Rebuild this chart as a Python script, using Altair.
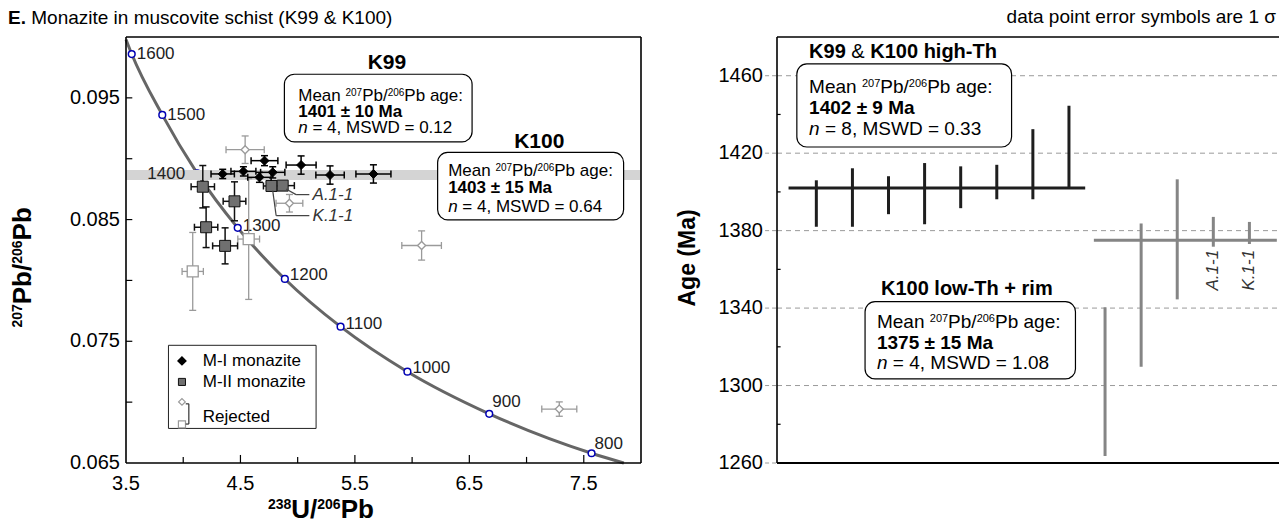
import altair as alt
import pandas as pd

FONT = "Liberation Sans"

# ---------------- left panel data (238U/206Pb vs 207Pb/206Pb) ----------------
curve_x = [3.500, 3.550, 3.817, 4.122, 4.476, 4.888, 5.375, 5.959, 6.674, 7.568, 7.850]
curve_y = [0.09980, 0.09860, 0.09360, 0.08880, 0.08432, 0.08012, 0.07620, 0.07250, 0.06904, 0.06580, 0.06500]

conc_age = [1600, 1500, 1400, 1300, 1200, 1100, 1000, 900, 800]
conc_x = [3.550, 3.817, 4.122, 4.476, 4.888, 5.375, 5.959, 6.674, 7.568]
conc_y = [0.09860, 0.09360, 0.08880, 0.08432, 0.08012, 0.07620, 0.07250, 0.06904, 0.06580]

mi_x = [4.345, 4.526, 4.666, 4.710, 4.782, 5.030, 5.283, 5.662]
mi_y = [0.08875, 0.08896, 0.08847, 0.08984, 0.08888, 0.08948, 0.08866, 0.08875]
mi_xe = [0.102, 0.109, 0.102, 0.117, 0.106, 0.131, 0.124, 0.153]
mi_ye = [0.00038, 0.00038, 0.00041, 0.00041, 0.00046, 0.00075, 0.00075, 0.00075]

mii_x = [4.171, 4.448, 4.200, 4.366, 4.771, 4.869]
mii_y = [0.08770, 0.08650, 0.08437, 0.08284, 0.08776, 0.08779]
mii_xe = [0.102, 0.099, 0.102, 0.109, 0.070, 0.102]
mii_ye = [0.00174, 0.00160, 0.00167, 0.00148, 0.00020, 0.00020]

rd_x = [4.541, 4.928, 6.083, 7.286]
rd_y = [0.09074, 0.08634, 0.08287, 0.06943]
rd_xe = [0.167, 0.117, 0.173, 0.153]
rd_ye = [0.00113, 0.00072, 0.00120, 0.00059]

rs_x = [4.083, 4.572]
rs_y = [0.08074, 0.08340]
rs_xe = [0.093, 0.095]
rs_ye = [0.00320, 0.00496]

band_lo, band_hi = 0.08825, 0.08907

x_labels = [3.5, 4.5, 5.5, 6.5, 7.5]
x_minor = [4.0, 5.0, 6.0, 7.0]
y_labels = [0.065, 0.075, 0.085, 0.095]
y_ticks = [0.070, 0.075, 0.080, 0.085, 0.090, 0.095]

# ---------------- right panel data (ages, Ma) ----------------
hi_pos = [1, 2, 3, 4, 5, 6, 7, 8]
hi_age = [1394.0, 1397.1, 1398.3, 1399.1, 1402.4, 1405.1, 1414.3, 1423.2]
hi_err = [12.0, 15.1, 9.8, 15.8, 10.8, 8.9, 18.1, 21.3]
lo_pos = [9, 10, 11, 12, 13]
lo_age = [1302.0, 1346.7, 1375.5, 1379.4, 1378.8]
lo_err = [38.4, 37.0, 31.0, 7.7, 5.7]
hi_mean = 1402
lo_mean = 1375
age_labels = [1260, 1300, 1340, 1380, 1420, 1460]
age_grid = [1300, 1340, 1380, 1420, 1460]
age_minor = [1280, 1320, 1360, 1400, 1440]

# ---------------- scales ----------------
LX = alt.Scale(domain=[3.5, 8.0], range=[0, 515], nice=False, zero=False)
LY = alt.Scale(domain=[0.065, 0.100], nice=False, zero=False)
RX = alt.Scale(domain=[-0.09, 13.82], range=[651, 1153], nice=False, zero=False)
RY = alt.Scale(domain=[1260, 1480], nice=False, zero=False)
R0, R1 = -0.09, 13.82

one = pd.DataFrame({"k": [0]})

# approximate Arial / Liberation Sans advance widths (per 1000 em)
_REG = {" ": 278, "&": 667, "(": 333, ")": 333, ",": 278, "-": 333, ".": 278, "/": 278, ":": 278,
        "=": 584, "±": 584}
_BOLD = {" ": 278, "&": 722, "(": 333, ")": 333, ",": 278, "-": 333, ".": 278, "/": 278, ":": 333,
         "=": 584, "±": 549}
for c, w in zip("ABCDEFGHIJKLMNOPQRSTUVWXYZ",
                [667, 667, 722, 722, 667, 611, 778, 722, 278, 500, 667, 556, 833, 722, 778, 667, 778,
                 722, 667, 611, 722, 667, 944, 667, 667, 611]):
    _REG[c] = w
for c, w in zip("abcdefghijklmnopqrstuvwxyz",
                [556, 556, 500, 556, 556, 278, 556, 556, 222, 222, 500, 222, 833, 556, 556, 556, 556,
                 333, 500, 278, 556, 500, 722, 500, 500, 500]):
    _REG[c] = w
for c, w in zip("ABCDEFGHIJKLMNOPQRSTUVWXYZ",
                [722, 722, 722, 722, 667, 611, 778, 722, 278, 556, 722, 611, 833, 722, 778, 667, 778,
                 722, 667, 611, 722, 667, 944, 667, 667, 611]):
    _BOLD[c] = w
for c, w in zip("abcdefghijklmnopqrstuvwxyz",
                [556, 611, 556, 611, 556, 333, 611, 611, 278, 278, 556, 278, 889, 611, 611, 611, 611,
                 389, 556, 333, 611, 556, 778, 556, 556, 500]):
    _BOLD[c] = w


def twidth(s, size, bold=False):
    tbl = _BOLD if bold else _REG
    return sum(tbl.get(c, 556) for c in s) * size / 1000.0


def pos(sx, sy, x, y, x2=None, y2=None):
    enc = dict(x=alt.XDatum(x, scale=sx, axis=None), y=alt.YDatum(y, scale=sy, axis=None))
    if x2 is not None:
        enc["x2"] = alt.X2Datum(x2)
    if y2 is not None:
        enc["y2"] = alt.Y2Datum(y2)
    return enc


def text(sx, sy, x, y, s, **kw):
    props = dict(font=FONT, fontSize=17, align="left", baseline="alphabetic", color="black")
    props.update(kw)
    return alt.Chart(one).mark_text(text=s, **props).encode(**pos(sx, sy, x, y))


def rich(sx, sy, x, y, segs, angle=0, center=False, color="black"):
    """segs: (text, size, bold, italic, raise) pieces placed one after another
    (offsets are applied in the text's own, possibly rotated, frame)."""
    widths = [twidth(t, s, b) for t, s, b, i, r in segs]
    total = sum(widths)
    cum = -total / 2 if center else 0.0
    out = []
    for (t, s, b, i, r), w in zip(segs, widths):
        lead = len(t) - len(t.lstrip(" "))
        off = cum + twidth(" " * lead, s, b)
        props = dict(fontSize=s, fontWeight="bold" if b else "normal",
                     fontStyle="italic" if i else "normal", color=color, dx=off, dy=-r)
        if angle:
            props["angle"] = angle
        out.append(text(sx, sy, x, y, t.strip(" "), **props))
        cum += w
    return out


def rule(sx, sy, x, y, x2=None, y2=None, **kw):
    props = dict(color="black", strokeWidth=1.5)
    props.update(kw)
    return alt.Chart(one).mark_rule(**props).encode(**pos(sx, sy, x, y, x2, y2))


def rect(sx, sy, x, x2, y, y2, **kw):
    return alt.Chart(one).mark_rect(**kw).encode(**pos(sx, sy, x, y, x2, y2))


def qx(f, s):
    return alt.X(f, type="quantitative", scale=s, axis=None)


def qy(f, s):
    return alt.Y(f, type="quantitative", scale=s, axis=None)


def errbars(xs, ys, xe, ye, color, sw, cap):
    df = pd.DataFrame({"x": xs, "y": ys, "xe": xe, "ye": ye})
    b = alt.Chart(df).transform_calculate(
        xl="datum.x - datum.xe", xh="datum.x + datum.xe",
        yl="datum.y - datum.ye", yh="datum.y + datum.ye")
    tick = dict(size=cap, thickness=sw, color=color, opacity=1)
    return [
        b.mark_rule(color=color, strokeWidth=sw).encode(x=qx("xl", LX), x2=alt.X2("xh"), y=qy("y", LY)),
        b.mark_rule(color=color, strokeWidth=sw).encode(x=qx("x", LX), y=qy("yl", LY), y2=alt.Y2("yh")),
        b.mark_tick(orient="vertical", **tick).encode(x=qx("xl", LX), y=qy("y", LY)),
        b.mark_tick(orient="vertical", **tick).encode(x=qx("xh", LX), y=qy("y", LY)),
        b.mark_tick(orient="horizontal", **tick).encode(x=qx("x", LX), y=qy("yl", LY)),
        b.mark_tick(orient="horizontal", **tick).encode(x=qx("x", LX), y=qy("yh", LY)),
    ]


def symbols(xs, ys, **kw):
    df = pd.DataFrame({"x": xs, "y": ys})
    props = dict(filled=True, opacity=1)
    props.update(kw)
    return alt.Chart(df).mark_point(**props).encode(x=qx("x", LX), y=qy("y", LY))


def mean_line(sx, sy, x, y, size):
    sup = round(size * 0.58)
    r = size * 0.3
    return rich(sx, sy, x, y, [("Mean ", size, False, False, 0), ("207", sup, False, False, r),
                               ("Pb/", size, False, False, 0), ("206", sup, False, False, r),
                               ("Pb age:", size, False, False, 0)])


L = []
curve_df = pd.DataFrame({"x": curve_x, "y": curve_y})
L.append(alt.Chart(curve_df).mark_line(color="#666666", strokeWidth=3, interpolate="monotone").encode(
    x=qx("x", LX), y=qy("y", LY), order="x:Q"))

conc_df = pd.DataFrame({"age": conc_age, "x": conc_x, "y": conc_y})
L.append(alt.Chart(conc_df).mark_point(shape="circle", size=45, filled=True, fill="white",
                                        stroke="#0000b4", strokeWidth=1.5, opacity=1).encode(
    x=qx("x", LX), y=qy("y", LY)))
L.append(rect(LX, LY, 3.5, 8.0, band_lo, band_hi, color="#d4d4d4"))

label_offsets = {1600: (5, 0), 1500: (5, 0), 1300: (5, -2), 1200: (5, -4), 1100: (5, -3),
                 1000: (5, -4), 900: (3, -12), 800: (3, -9)}
for a, (ddx, ddy) in label_offsets.items():
    L.append(alt.Chart(conc_df).transform_filter(alt.datum.age == a).mark_text(
        font=FONT, fontSize=17, align="left", baseline="middle", dx=ddx, dy=ddy, color="#222").encode(
        x=qx("x", LX), y=qy("y", LY), text="age:N"))
L.append(alt.Chart(conc_df).transform_filter(alt.datum.age == 1400).mark_text(
    font=FONT, fontSize=17, align="right", baseline="middle", dx=-12, dy=1, color="#222").encode(
    x=qx("x", LX), y=qy("y", LY), text="age:N"))

# rejected analyses
L += errbars(rd_x, rd_y, rd_xe, rd_ye, "#9a9a9a", 1.3, 7)
L += errbars(rs_x, rs_y, rs_xe, rs_ye, "#9a9a9a", 1.3, 7)
L.append(symbols(rd_x, rd_y, shape="diamond", size=64, fill="white", stroke="#9a9a9a", strokeWidth=1.3))
L.append(symbols(rs_x, rs_y, shape="square", size=121, fill="white", stroke="#9a9a9a", strokeWidth=1.3))
# M-II
L += errbars(mii_x, mii_y, mii_xe, mii_ye, "#111111", 1.5, 7)
L.append(symbols(mii_x, mii_y, shape="square", size=121, fill="#707070", stroke="#111111", strokeWidth=1))
# M-I
L += errbars(mi_x, mi_y, mi_xe, mi_ye, "#000000", 1.5, 7)
L.append(symbols(mi_x, mi_y, shape="diamond", size=81, fill="#000000", stroke="#000000", strokeWidth=1))

# leader lines and spot labels
L.append(rule(LX, LY, 4.899, 0.08752, 4.986, 0.08705, color="#444", strokeWidth=1.2))
L.append(rule(LX, LY, 4.986, 0.08705, 5.102, 0.08705, color="#444", strokeWidth=1.2))
L.append(rule(LX, LY, 4.782, 0.08738, 4.812, 0.08533, color="#444", strokeWidth=1.2))
L.append(rule(LX, LY, 4.812, 0.08533, 5.102, 0.08533, color="#444", strokeWidth=1.2))
L.append(text(LX, LY, 5.13, 0.08705, "A.1-1", fontStyle="italic", baseline="middle", color="#333"))
L.append(text(LX, LY, 5.13, 0.08533, "K.1-1", fontStyle="italic", baseline="middle", color="#333"))

# K99 / K100 annotations
L.append(text(LX, LY, 5.78, 0.09734, "K99", fontSize=21, fontWeight="bold", align="center"))
L.append(rect(LX, LY, 4.884, 6.524, 0.09139, 0.09694, fill="white", stroke="black", strokeWidth=1.2,
              cornerRadius=10))
L += mean_line(LX, LY, 5.005, 0.094754, 17)
L.append(text(LX, LY, 5.005, 0.093443, "1401 ± 10 Ma", fontWeight="bold"))
L += rich(LX, LY, 5.005, 0.092131, [("n", 17, False, True, 0), (" = 4, MSWD = 0.12", 17, False, False, 0)])

L.append(text(LX, LY, 7.111, 0.0909, "K100", fontSize=21, fontWeight="bold", align="center"))
L.append(rect(LX, LY, 6.223, 7.848, 0.08498, 0.09052, fill="white", stroke="black", strokeWidth=1.2,
              cornerRadius=10))
L += mean_line(LX, LY, 6.315, 0.088607, 17)
L.append(text(LX, LY, 6.315, 0.087213, "1403 ± 15 Ma", fontWeight="bold"))
L += rich(LX, LY, 6.315, 0.085656, [("n", 17, False, True, 0), (" = 4, MSWD = 0.64", 17, False, False, 0)])

# legend
L.append(rect(LX, LY, 3.871, 5.161, 0.06784, 0.07467, fill="white", stroke="#222", strokeWidth=1))
L.append(symbols([3.989], [0.07339], shape="diamond", size=50, fill="black", stroke="black"))
L.append(symbols([3.989], [0.07166], shape="square", size=50, fill="#707070", stroke="#111", strokeWidth=1))
L.append(symbols([3.989], [0.07002], shape="diamond", size=45, fill="white", stroke="#9a9a9a", strokeWidth=1.2))
L.append(symbols([3.989], [0.06817], shape="square", size=50, fill="white", stroke="#9a9a9a", strokeWidth=1.2))
L.append(text(LX, LY, 4.171, 0.07339, "M-I monazite", baseline="middle"))
L.append(text(LX, LY, 4.171, 0.07166, "M-II monazite", baseline="middle"))
L.append(text(LX, LY, 4.171, 0.06875, "Rejected", baseline="middle"))
L.append(rule(LX, LY, 4.022, 0.06986, 4.049, 0.06986, color="#333", strokeWidth=1.2))
L.append(rule(LX, LY, 4.049, 0.06986, 4.049, 0.06820, color="#333", strokeWidth=1.2))
L.append(rule(LX, LY, 4.022, 0.06820, 4.049, 0.06820, color="#333", strokeWidth=1.2))

# frame, inward ticks and tick labels
L.append(rule(LX, LY, 3.5, 0.065, 3.5, 0.100, strokeWidth=1.6))
L.append(rule(LX, LY, 8.0, 0.065, 8.0, 0.100, strokeWidth=1.6))
L.append(rule(LX, LY, 3.5, 0.100, 8.0, 0.100, strokeWidth=1.6))
L.append(rule(LX, LY, 3.5, 0.065, 8.0, 0.065, strokeWidth=1.6))
xt_major = pd.DataFrame({"v": x_labels[1:]})
xt_minor = pd.DataFrame({"v": x_minor})
yt = pd.DataFrame({"v": y_ticks})
L.append(alt.Chart(xt_major).mark_rule(color="black", strokeWidth=1.2).encode(
    x=qx("v", LX), y=alt.YDatum(0.065, scale=LY, axis=None), y2=alt.Y2Datum(0.06566)))
L.append(alt.Chart(xt_minor).mark_rule(color="black", strokeWidth=1.2).encode(
    x=qx("v", LX), y=alt.YDatum(0.065, scale=LY, axis=None), y2=alt.Y2Datum(0.06550)))
L.append(alt.Chart(yt).mark_rule(color="black", strokeWidth=1.2).encode(
    y=qy("v", LY), x=alt.XDatum(3.5, scale=LX, axis=None), x2=alt.X2Datum(3.555)))
xl_df = pd.DataFrame({"v": x_labels, "t": [f"{v:.1f}" for v in x_labels]})
yl_df = pd.DataFrame({"v": y_labels, "t": [f"{v:.3f}" for v in y_labels]})
L.append(alt.Chart(xl_df).mark_text(font=FONT, fontSize=20, baseline="alphabetic", dy=27, color="black").encode(
    x=qx("v", LX), y=alt.YDatum(0.065, scale=LY, axis=None), text="t:N"))
L.append(alt.Chart(yl_df).mark_text(font=FONT, fontSize=20, align="right", baseline="middle", dx=-6,
                                    color="black").encode(
    y=qy("v", LY), x=alt.XDatum(3.5, scale=LX, axis=None), text="t:N"))

# titles of the left panel
L += rich(LX, LY, 2.469, 0.10105, [("E.", 19, True, False, 0),
                                     (" Monazite in muscovite schist (K99 & K100)", 19, False, False, 0)])
L += rich(LX, LY, 2.670, 0.08107, [("207", 14, True, False, 9), ("Pb/", 26, True, False, 0),
                                     ("206", 14, True, False, 9), ("Pb", 26, True, False, 0)],
          angle=270, center=True)
L += rich(LX, LY, 5.203, 0.06045, [("238", 14, True, False, 9), ("U/", 26, True, False, 0),
                                     ("206", 14, True, False, 9), ("Pb", 26, True, False, 0)], center=True)

# ---------------- right panel ----------------
R = []
grid_df = pd.DataFrame({"age": age_grid})
R.append(alt.Chart(grid_df).mark_rule(color="#9a9a9a", strokeWidth=1, strokeDash=[5, 4]).encode(
    x=alt.XDatum(R0, scale=RX, axis=None), x2=alt.X2Datum(R1), y=qy("age", RY)))
lab_df = pd.DataFrame({"age": age_labels})
R.append(alt.Chart(lab_df).mark_rule(color="#9a9a9a", strokeWidth=1, strokeDash=[4, 3]).encode(
    x=alt.XDatum(R0 - 0.33, scale=RX, axis=None), x2=alt.X2Datum(R0), y=qy("age", RY)))
R.append(alt.Chart(lab_df).mark_text(font=FONT, fontSize=20, align="right", baseline="middle", dx=-14,
                                     color="black").encode(
    x=alt.XDatum(R0, scale=RX, axis=None), y=qy("age", RY), text="age:N"))
minor_df = pd.DataFrame({"age": age_minor})
R.append(alt.Chart(minor_df).mark_rule(color="black", strokeWidth=1.2).encode(
    x=alt.XDatum(R0, scale=RX, axis=None), x2=alt.X2Datum(R0 + 0.1), y=qy("age", RY)))

hi_df = pd.DataFrame({"pos": hi_pos, "age": hi_age, "err": hi_err})
lo_df = pd.DataFrame({"pos": lo_pos, "age": lo_age, "err": lo_err})
for dfx, col in ((hi_df, "#1e1e1e"), (lo_df, "#858585")):
    R.append(alt.Chart(dfx).transform_calculate(lo="datum.age - datum.err", hi="datum.age + datum.err")
             .mark_rule(color=col, strokeWidth=3).encode(
        x=qx("pos", RX), y=qy("lo", RY), y2=alt.Y2("hi")))
R.append(rule(RX, RY, 0.23, hi_mean, 8.45, None, color="#1e1e1e", strokeWidth=3))
R.append(rule(RX, RY, 8.69, lo_mean, 13.76, None, color="#858585", strokeWidth=3))

R.append(text(RX, RY, 12, 1358, "A.1-1", fontStyle="italic", angle=270, align="center",
              baseline="middle", dx=3, color="#333"))
R.append(text(RX, RY, 13, 1358, "K.1-1", fontStyle="italic", angle=270, align="center",
              baseline="middle", dx=3, color="#333"))

R += rich(RX, RY, 0.80, 1469.2, [("K99 ", 20, True, False, 0), ("& ", 20, False, False, 0),
                                   ("K100 high-Th", 20, True, False, 0)])
R.append(rect(RX, RY, 0.46, 6.41, 1423.2, 1466.1, fill="white", stroke="black", strokeWidth=1.2,
              cornerRadius=10))
R += mean_line(RX, RY, 0.80, 1451.1, 19)
R.append(text(RX, RY, 0.80, 1440.2, "1402 ± 9 Ma", fontSize=19, fontWeight="bold"))
R += rich(RX, RY, 0.80, 1429.4, [("n", 19, False, True, 0), (" = 8, MSWD = 0.33", 19, False, False, 0)])

R.append(text(RX, RY, 5.17, 1346.8, "K100 low-Th + rim", fontSize=20, fontWeight="bold", align="center"))
R.append(rect(RX, RY, 2.35, 8.18, 1303.4, 1343.3, fill="white", stroke="black", strokeWidth=1.2,
              cornerRadius=10))
R += mean_line(RX, RY, 2.68, 1329.7, 19)
R.append(text(RX, RY, 2.68, 1318.9, "1375 ± 15 Ma", fontSize=19, fontWeight="bold"))
R += rich(RX, RY, 2.68, 1308.5, [("n", 19, False, True, 0), (" = 4, MSWD = 1.08", 19, False, False, 0)])

R.append(rule(RX, RY, R0, 1260, R0, 1480, strokeWidth=1.6))
R.append(rule(RX, RY, R0, 1480, R1, 1480, strokeWidth=1.6))
R.append(rule(RX, RY, R0, 1260, R1, 1260, strokeWidth=2))

R.append(text(RX, RY, -2.554, 1365.9, "Age (Ma)", fontSize=23, fontWeight="bold", angle=270,
              align="center", baseline="middle"))
R.append(text(RX, RY, R1, 1487.2, "data point error symbols are 1 σ", fontSize=19, align="right", dx=-3))

chart = alt.layer(alt.layer(*L), alt.layer(*R)).resolve_scale(
    x="independent", y="independent"
).properties(
    width=1153, height=426,
    autosize=alt.AutoSizeParams(type="none"),
    padding={"left": 118, "top": 29, "right": 0, "bottom": 59},
).configure_view(stroke=None)

chart.save("out.html", embed_options={"renderer": "svg", "actions": False})
